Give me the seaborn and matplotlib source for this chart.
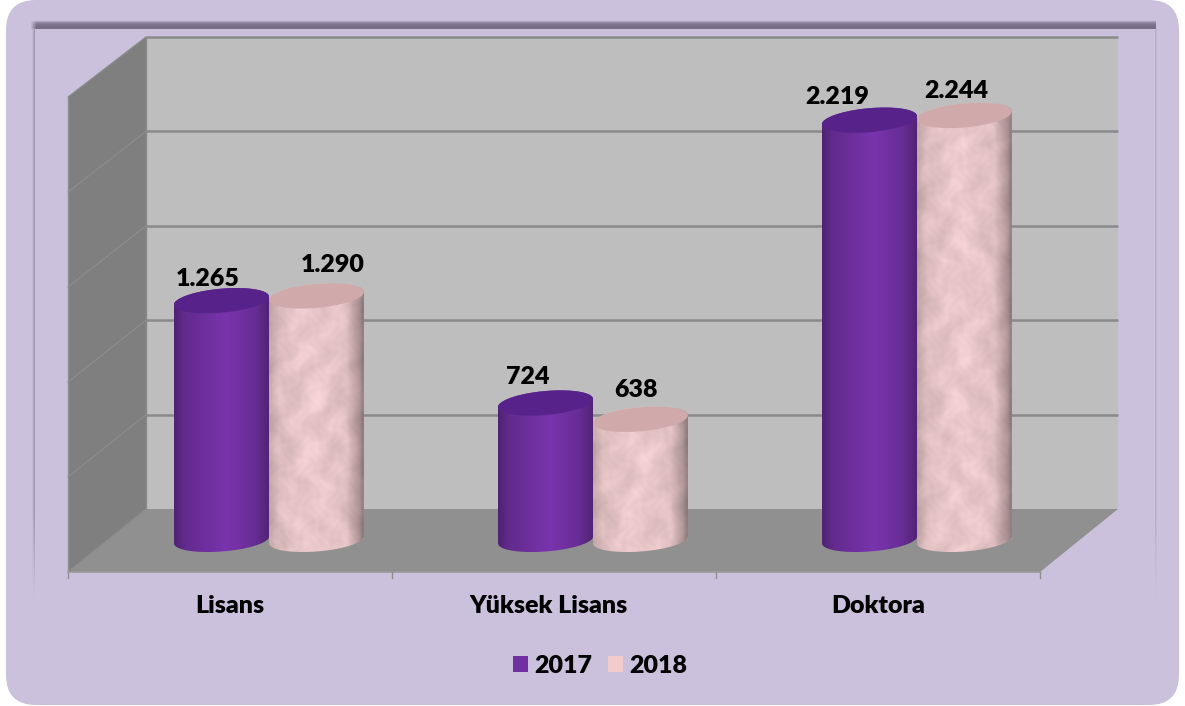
import numpy as np
import pandas as pd
import seaborn as sns
import matplotlib
matplotlib.use("Agg")
import matplotlib.pyplot as plt
from matplotlib.patches import FancyBboxPatch, PathPatch, Polygon
from matplotlib.path import Path
from matplotlib.transforms import Affine2D

# data
categories = ["Lisans", "Yüksek Lisans", "Doktora"]
years = ["2017", "2018"]
values_2017 = [1265, 724, 2219]
values_2018 = [1290, 638, 2244]
grid_values = [0, 500, 1000, 1500, 2000, 2500]

W, H = 1185, 706
LILAC = "#CBC1DC"

df = pd.DataFrame({
    "birim": categories * 2,
    "yil": [years[0]] * 3 + [years[1]] * 3,
    "sayi": values_2017 + values_2018,
})

sns.set_theme(style="white")
plt.rcParams["font.family"] = ["Lato", "DejaVu Sans"]

TEXT_SIZE = 18
TEXT_WEIGHT = "heavy"

fig = plt.figure(figsize=(W / 100, H / 100), dpi=100, facecolor="white")


def pixel_axes(zorder):
    a = fig.add_axes([0, 0, 1, 1], zorder=zorder)
    a.set_xlim(0, W)
    a.set_ylim(H, 0)
    a.axis("off")
    a.patch.set_alpha(0)
    return a


# background panel, walls and floor
bg = pixel_axes(0)
bg.add_patch(FancyBboxPatch((36, 30), 1113, 645, boxstyle="round,pad=30,rounding_size=30",
                            fc=LILAC, ec="none", zorder=0.5))


def shadow(a, extent, alpha):
    # soft dark strip, alpha is a 2D table stretched over the strip
    alpha = np.atleast_2d(alpha)
    arr = np.zeros(alpha.shape + (4,))
    arr[..., :3] = np.array([0.30, 0.26, 0.36])
    arr[..., 3] = alpha
    a.imshow(arr, extent=extent, aspect="auto", interpolation="bilinear", zorder=1)


top_alpha = np.array([0, 0.2, 0.38, 0.5, 0.58, 0.62, 0.64, 0.66, 0.66, 0.66])[:, None]
shadow(bg, (37, 1156, 29, 20), top_alpha)
shadow(bg, (30, 37, 29, 20), top_alpha * np.linspace(0, 1, 6)[None, :])

fade = np.concatenate([np.ones(40), np.linspace(1, 0, 8)])[:, None]
shadow(bg, (31, 35, 606, 29), fade * np.array([[0, 0.06, 0.18, 0.34]]))
shadow(bg, (1155, 1158, 606, 29), fade * np.array([[0.16, 0.08, 0]]))

BACK_Y0, BACK_Y1 = 509, 37
back_y = lambda v: BACK_Y0 + (BACK_Y1 - BACK_Y0) * v / grid_values[-1]

bg.add_patch(Polygon([(146, 37), (1118, 37), (1118, 509), (146, 509)], fc="#BEBEBE", ec="none", zorder=2))
bg.add_patch(Polygon([(68, 97), (146, 37), (146, 509), (68, 572)], fc="#7F7F7F", ec="none", zorder=2))
bg.add_patch(Polygon([(146, 509), (1118, 509), (1040, 572), (68, 572)], fc="#909090", ec="none", zorder=2))

for v in grid_values:
    y = back_y(v)
    if v > 0:
        bg.plot([146, 1118], [y, y], color="#8A8A8A", lw=1.8, zorder=3, solid_capstyle="butt")
    side_dy = 63 - 3 * v / grid_values[-1]
    bg.plot([146, 68], [y, y + side_dy], color="#8C8C8C", lw=0.9, zorder=3)

bg.plot([146, 146], [37, 509], color="#8A8A8A", lw=1.0, zorder=3)
bg.plot([68, 68], [97, 578], color="#8E8E8E", lw=1.0, zorder=3)
bg.plot([68, 1040], [572, 572], color="#9A9A9A", lw=1.2, zorder=3)
for x in [392, 716, 1040]:
    bg.plot([x, x], [572, 578], color="#8E8E8E", lw=1.0, zorder=3)

# the chart itself, on the plane that runs through the cylinders
ax = fig.add_axes([107 / W, (H - 540) / H, 972 / W, 473 / H], zorder=2)
ax.patch.set_alpha(0)
sns.barplot(data=df, x="birim", y="sayi", hue="yil", hue_order=years,
            palette=["#7030A0", "#F2CCCC"], saturation=1, width=0.586,
            order=categories, ax=ax, linewidth=0)
ax.set_xlim(-0.5, 2.5)
ax.set_ylim(grid_values[0], grid_values[-1])
ax.set_xlabel("")
ax.set_ylabel("")
ax.set_yticks([])
ax.tick_params(axis="x", length=0, pad=0, labelsize=TEXT_SIZE)
sns.despine(ax=ax, left=True, bottom=True)

# category labels sit on the front edge of the floor
for lab, dx in zip(ax.get_xticklabels(), [-39, -45, -39]):
    lab.set_fontweight(TEXT_WEIGHT)
    lab.set_color("black")
    lab.set_transform(lab.get_transform() + Affine2D().translate(dx, -55))

sns.move_legend(ax, "center", bbox_to_anchor=(600 / W, 1 - 666 / H), bbox_transform=fig.transFigure,
                ncol=2, frameon=False, title=None, fontsize=TEXT_SIZE, handlelength=0.6, handleheight=0.6,
                handletextpad=0.28, columnspacing=0.6, borderpad=0, borderaxespad=0)
for t in ax.get_legend().get_texts():
    t.set_color("black")
    t.set_fontweight(TEXT_WEIGHT)

# cylinders are built from the bars seaborn placed
fx = pixel_axes(3)


def ellipse_pts(cx, cy, a, b, k, t):
    return np.column_stack([cx + a * np.cos(t), cy + b * np.sin(t) - k * np.cos(t)])


def marble(xx, yy, seed):
    n = np.sin(xx * 0.15 + 3 * np.sin(yy * 0.031 + seed) + 1.2 * np.sin(yy * 0.14))
    n += 0.7 * np.sin(yy * 0.12 + 2.5 * np.sin(xx * 0.07 + seed) + np.sin(xx * 0.21))
    n += 0.6 * np.sin(xx * 0.43 + 2 * np.sin(yy * 0.23 + seed * 2)) * np.sin(yy * 0.31 + 2 * np.sin(xx * 0.19))
    return n / 2.3


n_cat = len(categories)
for i, bar in enumerate(ax.patches[:2 * n_cat]):
    x0, y_base = ax.transData.transform((bar.get_x(), 0))
    x1, y_top = ax.transData.transform((bar.get_x() + bar.get_width(), bar.get_height()))
    y_base, y_top = H - y_base, H - y_top
    cx, a = (x0 + x1) / 2, (x1 - x0) / 2
    purple = i < n_cat

    low = ellipse_pts(cx, y_base, a, 11.5, 3.5, np.linspace(np.pi, 0, 60))
    up = ellipse_pts(cx, y_top, a, 12, 4, np.linspace(0, -np.pi, 60))
    outline = np.vstack([low, up, low[:1]])
    body = PathPatch(Path(outline, closed=True), fc="none", ec="none", zorder=i * 3 + 1)
    fx.add_patch(body)
    bar.set_clip_path(body)

    w_px, h_px = int(x1 - x0) + 2, int(y_base - y_top) + 34
    xx, yy = np.meshgrid(np.arange(w_px), np.arange(h_px))
    u = xx / (w_px - 1)
    if purple:
        shade = np.interp(u, [0, 0.12, 0.55, 0.85, 1], [0.66, 0.82, 1.0, 0.86, 0.68])
        base = np.array([0.475, 0.205, 0.68])
        img = base[None, None, :] * shade[..., None]
    else:
        shade = np.interp(u, [0, 0.1, 0.5, 0.82, 0.95, 1], [0.82, 0.94, 1.0, 0.94, 0.74, 0.6])
        m = marble(xx, yy, i)
        base = np.array([0.93, 0.795, 0.80])
        img = base[None, None, :] * (shade * (1 + 0.06 * m))[..., None]
    extent = (x0, x1, y_base + 16, y_top - 18)
    im = fx.imshow(np.clip(img, 0, 1), extent=extent, aspect="auto", zorder=i * 3 + 1)
    im.set_clip_path(body)

    t = np.linspace(0, 2 * np.pi, 90)
    top_fc = "#57238A" if purple else "#D0A9AB"
    fx.add_patch(Polygon(ellipse_pts(cx, y_top, a, 12, 4, t), fc=top_fc, ec="none", zorder=i * 3 + 2))

fx.set_xlim(0, W)
fx.set_ylim(H, 0)

# value labels, nudged where the original has them
label_dx = [-14, -18, -32, 16, -4, -8]
label_dy = [22, 26, 23, 31, 29, 24]
for bar, val, dx, dy in zip(ax.patches, values_2017 + values_2018, label_dx, label_dy):
    ax.annotate(f"{val:,}".replace(",", "."), (bar.get_x() + bar.get_width() / 2, val),
                xytext=(dx, dy), textcoords="offset pixels", ha="center", va="center",
                fontsize=TEXT_SIZE, fontweight=TEXT_WEIGHT, color="black", annotation_clip=False, zorder=10)

fig.savefig("out.png", dpi=100, facecolor="white")
